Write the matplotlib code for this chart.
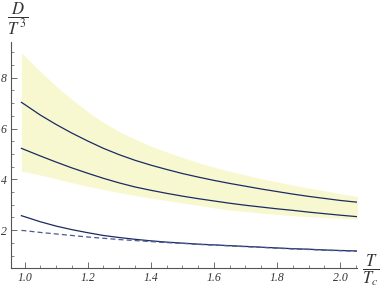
import matplotlib.pyplot as plt
from matplotlib.ticker import MultipleLocator, FormatStrFormatter

# values (T/Tc -> D/T^3)
t = [0.99, 1.00, 1.05, 1.10, 1.15, 1.20, 1.25, 1.30, 1.35, 1.40, 1.45, 1.50,
     1.55, 1.60, 1.65, 1.70, 1.75, 1.80, 1.85, 1.90, 1.95, 2.00, 2.055]
band_hi = [8.98, 8.86, 8.24, 7.67, 7.15, 6.67, 6.24, 5.88, 5.58, 5.31, 5.08, 4.86,
           4.66, 4.48, 4.32, 4.17, 4.03, 3.90, 3.78, 3.66, 3.55, 3.44, 3.33]
band_lo = [4.33, 4.30, 4.17, 4.02, 3.87, 3.73, 3.60, 3.48, 3.36, 3.26, 3.17, 3.07,
           2.98, 2.88, 2.79, 2.73, 2.67, 2.62, 2.57, 2.53, 2.50, 2.47, 2.44]
upper = [7.03, 6.95, 6.53, 6.16, 5.82, 5.51, 5.22, 4.97, 4.75, 4.56, 4.39, 4.23,
         4.09, 3.96, 3.84, 3.73, 3.62, 3.52, 3.42, 3.33, 3.25, 3.17, 3.10]
middle = [5.22, 5.17, 4.92, 4.68, 4.45, 4.24, 4.04, 3.86, 3.70, 3.57, 3.45, 3.34,
          3.24, 3.15, 3.06, 2.98, 2.91, 2.84, 2.78, 2.71, 2.65, 2.59, 2.53]
lower = [2.57, 2.53, 2.33, 2.16, 2.02, 1.90, 1.79, 1.71, 1.64, 1.58, 1.53, 1.49,
         1.45, 1.42, 1.39, 1.36, 1.33, 1.30, 1.27, 1.25, 1.22, 1.20, 1.18]
dashed = [1.99, 1.98, 1.91, 1.85, 1.79, 1.73, 1.68, 1.63, 1.59, 1.55, 1.51, 1.48,
          1.44, 1.41, 1.38, 1.35, 1.32, 1.29, 1.26, 1.24, 1.21, 1.19, 1.17]

plt.rcParams['mathtext.fontset'] = 'stix'
plt.rcParams['font.family'] = 'Liberation Serif'

fig = plt.figure(figsize=(3.82, 2.87), dpi=100)
ax = fig.add_axes([0.0288, 0.066, 0.906, 0.788])

line_col = '#1b2a63'
ax.fill_between(t, band_lo, band_hi, color='#f8f8d0', lw=0)
ax.plot(t, upper, color=line_col, lw=0.9)
ax.plot(t, middle, color=line_col, lw=0.9)
ax.plot(t, lower, color=line_col, lw=0.9)
ax.plot(t, dashed, color='#4b5a92', lw=0.9, ls=(0, (4, 2.5)))

ax.set_xlim(0.957, 2.054)
ax.set_ylim(0.508, 9.41)

for s in ['top', 'right']:
    ax.spines[s].set_visible(False)
for s in ['left', 'bottom']:
    ax.spines[s].set_color('#555555')
    ax.spines[s].set_linewidth(0.8)

ax.xaxis.set_major_locator(MultipleLocator(0.2))
ax.xaxis.set_minor_locator(MultipleLocator(0.05))
ax.yaxis.set_major_locator(MultipleLocator(2))
ax.yaxis.set_minor_locator(MultipleLocator(0.5))
ax.xaxis.set_major_formatter(FormatStrFormatter('%.1f'))
ax.tick_params(which='major', direction='in', length=4, width=0.6, color='#555555', labelsize=8.5, pad=3)
ax.tick_params(which='minor', direction='in', length=2, width=0.5, color='#555555')
for lab in ax.get_xticklabels() + ax.get_yticklabels():
    lab.set_fontstyle('italic')
    lab.set_color('#333333')

fig.text(0.045, 0.935, r'$\dfrac{D}{T^{\,3}}$', fontsize=12, ha='center', va='center', color='#333333')
fig.text(0.970, 0.058, r'$\dfrac{T}{T_c}$', fontsize=12, ha='center', va='center', color='#333333')

fig.savefig('out.png', dpi=100)
